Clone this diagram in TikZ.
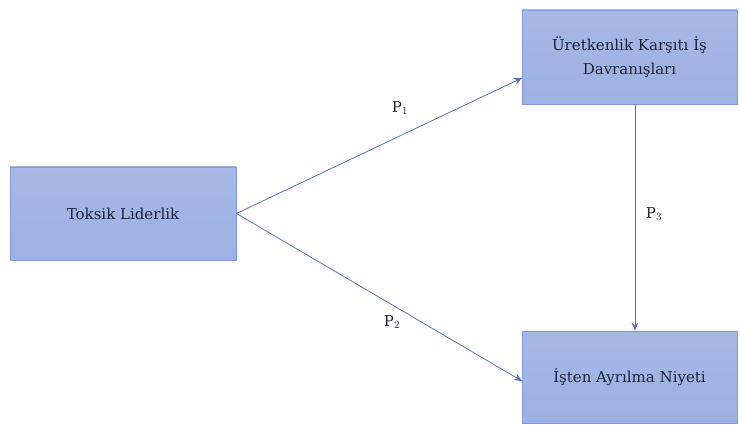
\documentclass[tikz,border=0pt]{standalone}
\usepackage{fontspec}
\setmainfont{DejaVu Serif}
\usetikzlibrary{arrows.meta}
\definecolor{boxfill}{RGB}{157,177,226}
\definecolor{boxtop}{RGB}{165,184,230}
\definecolor{boxline}{RGB}{122,154,226}
\definecolor{arrowc}{RGB}{88,112,200}
\definecolor{txt}{RGB}{30,35,55}
\begin{document}
\begin{tikzpicture}[x=1pt,y=-1pt,
  box/.style={draw=boxline,line width=0.8pt,top color=boxtop,bottom color=boxfill,
    minimum width=#1,align=center,text=txt,font=\fontsize{15}{24}\selectfont},
  conn/.style={draw=arrowc,line width=0.8pt,-{Stealth[length=8pt,width=7pt]}},
  lab/.style={text=txt,font=\fontsize{15}{18}\selectfont}]
\useasboundingbox (0,0) rectangle (740,425);
\node[box=226pt,minimum height=93pt] (tl) at (123,213.5) {Toksik Liderlik};
\node[box=215pt,minimum height=94pt] (uk) at (629.5,57) {Üretkenlik Karşıtı İş\\Davranışları};
\node[box=215pt,minimum height=92pt] (ia) at (629.5,377) {İşten Ayrılma Niyeti};
\coordinate (a1) at (522,78);
\coordinate (a2) at (522,381);
\draw[conn] (tl.east) -- (a1);
\draw[conn] (tl.east) -- (a2);
\draw[conn] (uk.south -| 635,0) -- (ia.north -| 635,0);
\node[lab] (p1) at (400,108) {P$_1$};
\node[lab] (p2) at (392,322) {P$_2$};
\node[lab] (p3) at (654,214) {P$_3$};
\end{tikzpicture}
\end{document}
